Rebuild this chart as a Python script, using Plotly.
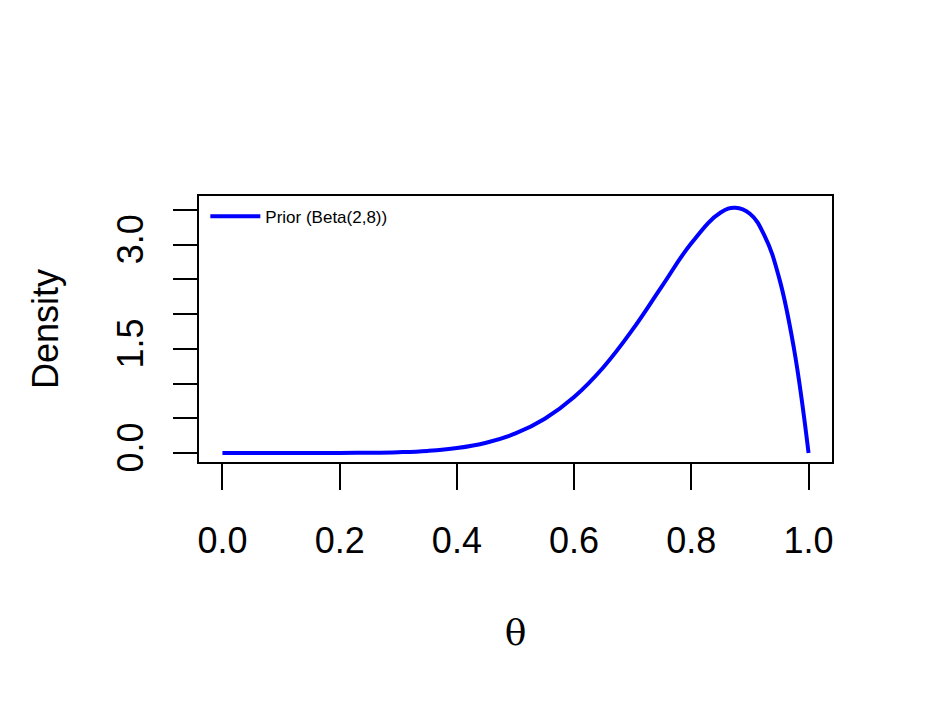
import plotly.graph_objects as go

theta = [0.0, 0.1, 0.2, 0.25, 0.3, 0.35, 0.4, 0.45, 0.5, 0.55, 0.6, 0.65, 0.7, 0.75,
         0.8, 0.85, 0.875, 0.9, 0.925, 0.95, 0.975, 1.0]
density = [0.0, 0.0, 0.001, 0.003, 0.011, 0.030, 0.071, 0.148, 0.281, 0.493, 0.806, 1.235,
           1.779, 2.403, 3.020, 3.463, 3.53, 3.444, 3.126, 2.514, 1.508, 0.0]

x_ticks = [0, 0.2, 0.4, 0.6, 0.8, 1.0]
x_labels = ["0.0", "0.2", "0.4", "0.6", "0.8", "1.0"]
y_ticks = [0, 0.5, 1, 1.5, 2, 2.5, 3, 3.5]
y_labels = ["0.0", "", "", "1.5", "", "", "3.0", ""]

font = "Liberation Sans, Arial, sans-serif"

fig = go.Figure()
fig.add_trace(go.Scatter(x=theta, y=density, mode="lines", name="Prior (Beta(2,8))",
                         line=dict(color="#0000ff", width=4, shape="spline", smoothing=1.2)))

fig.update_layout(
    width=932, height=705, paper_bgcolor="white", plot_bgcolor="white",
    margin=dict(l=191, r=108, t=188, b=251),
    font=dict(family=font, color="black"),
    showlegend=True,
    legend=dict(x=0.01, y=0.99, xanchor="left", yanchor="top", bgcolor="rgba(0,0,0,0)",
                font=dict(size=17), itemwidth=50),
    xaxis=dict(range=[-0.04, 1.04], tickvals=x_ticks, ticktext=x_labels, ticks="outside",
               ticklen=26, tickwidth=2, tickcolor="black", tickfont=dict(size=36),
               ticklabelstandoff=20,
               showline=True, linecolor="black", linewidth=2, mirror=True,
               showgrid=False, zeroline=False,
               title=dict(text="θ", font=dict(size=36, family="DejaVu Serif, serif"), standoff=60)),
    yaxis=dict(range=[-0.13, 3.7], tickvals=y_ticks, ticktext=y_labels, ticks="outside",
               ticklen=24, tickwidth=2, tickcolor="black", tickfont=dict(size=36), tickangle=-90,
               ticklabelstandoff=16,
               showline=True, linecolor="black", linewidth=2, mirror=True,
               showgrid=False, zeroline=False,
               title=dict(text="Density", font=dict(size=36), standoff=40)),
)
fig.write_html("out.html")
